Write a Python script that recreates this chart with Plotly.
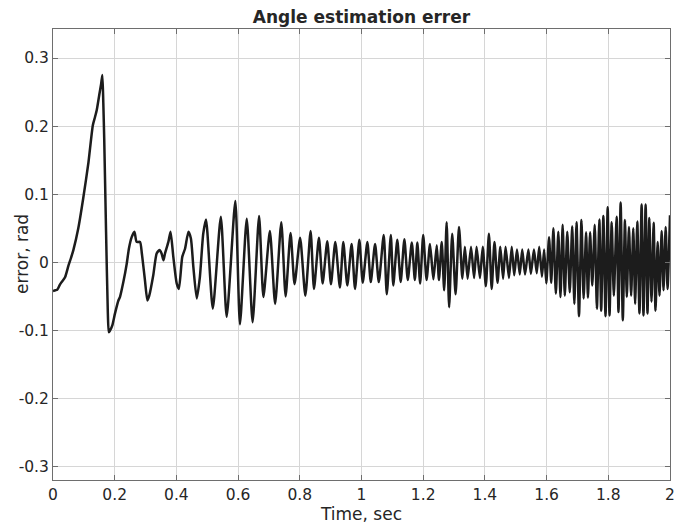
import plotly.graph_objects as go

# Time (s) and estimation error (rad)
time_s = [
    0.000, 0.008, 0.014, 0.022, 0.028, 0.039, 0.050, 0.058, 0.066, 0.082,
    0.098, 0.115, 0.129, 0.136, 0.142, 0.150, 0.156, 0.160, 0.163, 0.166,
    0.172, 0.1775, 0.181, 0.185, 0.192, 0.201, 0.212, 0.217, 0.228, 0.239,
    0.246, 0.255, 0.264, 0.271, 0.282, 0.288, 0.298, 0.306, 0.312, 0.325,
    0.336, 0.345, 0.352, 0.358, 0.363, 0.374, 0.381, 0.390, 0.401, 0.408,
    0.419, 0.428, 0.439, 0.447, 0.455, 0.466, 0.476, 0.487, 0.496, 0.518,
    0.544, 0.563, 0.591, 0.606, 0.628, 0.647, 0.668, 0.682,
    0.703, 0.720, 0.740, 0.754, 0.770, 0.783, 0.801, 0.818, 0.835, 0.846,
    0.862, 0.874, 0.889, 0.901, 0.915, 0.930, 0.941, 0.954, 0.968, 0.979,
    0.993, 1.004, 1.019, 1.030, 1.044, 1.056, 1.072, 1.082, 1.095, 1.103,
    1.116, 1.127, 1.139, 1.150, 1.163, 1.173,
    1.181, 1.190, 1.200, 1.211, 1.222, 1.233, 1.244, 1.251, 1.260, 1.268,
    1.276, 1.284, 1.294, 1.305, 1.316, 1.327, 1.335, 1.344, 1.355, 1.365,
    1.373, 1.384, 1.393, 1.403, 1.413, 1.422, 1.431, 1.441, 1.450, 1.459,
    1.467, 1.478, 1.487, 1.495, 1.504, 1.513, 1.521, 1.530, 1.541, 1.549,
    1.559, 1.568, 1.576, 1.585,
    1.592, 1.599, 1.608, 1.615, 1.622, 1.630, 1.638, 1.645, 1.652, 1.659,
    1.667, 1.675, 1.683, 1.690, 1.697, 1.705, 1.713, 1.720, 1.728, 1.734,
    1.741, 1.748, 1.756, 1.763, 1.771, 1.777, 1.784, 1.791, 1.798, 1.804,
    1.811, 1.818, 1.827, 1.833, 1.840, 1.847, 1.854, 1.860, 1.867, 1.874,
    1.881, 1.887, 1.894, 1.901, 1.908, 1.914, 1.921, 1.927, 1.933, 1.940,
    1.947, 1.953, 1.960, 1.966, 1.973, 1.979, 1.986, 1.992, 2.000,
]
error_rad = [
    -0.042, -0.041, -0.040, -0.033, -0.029, -0.022, -0.005, 0.006, 0.018, 0.050,
    0.094, 0.147, 0.201, 0.213, 0.224, 0.246, 0.262, 0.275, 0.235, 0.182,
    0.045, -0.070, -0.1025, -0.100, -0.093, -0.075, -0.056, -0.051, -0.029, -0.002,
    0.020, 0.037, 0.045, 0.030, 0.030, 0.013, -0.026, -0.056, -0.049, -0.019,
    0.013, 0.018, 0.013, 0.003, 0.013, 0.030, 0.045, 0.008, -0.031, -0.039,
    0.008, 0.020, 0.045, 0.035, -0.007, -0.053, -0.022, 0.042, 0.063, -0.068,
    0.067, -0.080, 0.090, -0.091, 0.064, -0.088, 0.068, -0.051,
    0.046, -0.061, 0.059, -0.050, 0.043, -0.032, 0.036, -0.049, 0.046, -0.039,
    0.036, -0.031, 0.031, -0.032, 0.030, -0.037, 0.030, -0.034, 0.027, -0.039,
    0.033, -0.030, 0.030, -0.029, 0.027, -0.029, 0.040, -0.047, 0.040, -0.034,
    0.033, -0.029, 0.034, -0.026, 0.029, -0.026,
    0.029, -0.031, 0.040, -0.026, 0.027, -0.025, 0.025, -0.026, 0.030, -0.041,
    0.059, -0.066, 0.042, -0.047, 0.052, -0.024, 0.023, -0.024, 0.023, -0.023,
    0.023, -0.023, 0.023, -0.035, 0.042, -0.039, 0.030, -0.030, 0.023, -0.024,
    0.023, -0.023, 0.023, -0.019, 0.019, -0.018, 0.019, -0.018, 0.019, -0.017,
    0.019, -0.016, 0.023, -0.021,
    0.019, -0.031, 0.037, -0.030, 0.050, -0.046, 0.045, -0.051, 0.055, -0.049,
    0.045, -0.044, 0.053, -0.061, 0.059, -0.079, 0.062, -0.053, 0.044, -0.052,
    0.044, -0.034, 0.055, -0.068, 0.063, -0.071, 0.068, -0.079, 0.081, -0.078,
    0.059, -0.049, 0.067, -0.073, 0.088, -0.085, 0.062, -0.051, 0.052, -0.049,
    0.050, -0.061, 0.060, -0.075, 0.085, -0.078, 0.085, -0.075, 0.065, -0.058,
    0.058, -0.071, 0.030, -0.049, 0.046, -0.041, 0.052, -0.039, 0.069,
]

x_tickvals = [0, 0.2, 0.4, 0.6, 0.8, 1.0, 1.2, 1.4, 1.6, 1.8, 2.0]
x_ticktext = ["0", "0.2", "0.4", "0.6", "0.8", "1", "1.2", "1.4", "1.6", "1.8", "2"]
y_tickvals = [-0.3, -0.2, -0.1, 0, 0.1, 0.2, 0.3]
y_ticktext = ["-0.3", "-0.2", "-0.1", "0", "0.1", "0.2", "0.3"]

FONT = "DejaVu Sans"
FRAME = "#6e6e6e"
GRID = "#d6d6d6"
TXT = "#262626"

fig = go.Figure()
fig.add_trace(go.Scatter(
    x=time_s, y=error_rad, mode="lines",
    line=dict(color="#1c1c1c", width=2.5, shape="spline", smoothing=0.6),
    showlegend=False, hoverinfo="skip",
))

axis_common = dict(
    showline=True, linecolor=FRAME, linewidth=1, mirror="ticks",
    ticks="inside", ticklen=5, tickcolor=FRAME, tickwidth=1,
    showgrid=True, gridcolor=GRID, gridwidth=1, zeroline=False,
    tickfont=dict(family=FONT, size=15.5, color=TXT),
    automargin=False,
)

fig.update_layout(
    width=686, height=524,
    margin=dict(l=53, r=16, t=29, b=44),
    paper_bgcolor="white", plot_bgcolor="white",
    title=dict(
        text="<b>Angle estimation errer</b>",
        font=dict(family=FONT, size=17, color=TXT),
        x=0.5, xref="paper", xanchor="center",
        y=1 - 17 / 524, yref="container", yanchor="middle",
        automargin=False,
    ),
    xaxis=dict(
        range=[0, 2], tickmode="array", tickvals=x_tickvals, ticktext=x_ticktext,
        title=dict(text="Time, sec", font=dict(family=FONT, size=17, color=TXT), standoff=2),
        **axis_common,
    ),
    yaxis=dict(
        range=[-0.3196, 0.3426], tickmode="array", tickvals=y_tickvals, ticktext=y_ticktext,
        **axis_common,
    ),
    annotations=[dict(
        text="error, rad", textangle=-90, showarrow=False,
        xref="paper", yref="paper", x=(21.5 - 53) / 617, y=0.5,
        xanchor="center", yanchor="middle",
        font=dict(family=FONT, size=17, color=TXT),
    )],
)

fig.write_html(
    "out.html",
    config={"displayModeBar": False},
    post_script="document.body.style.margin='0';document.body.style.overflow='hidden';",
)
